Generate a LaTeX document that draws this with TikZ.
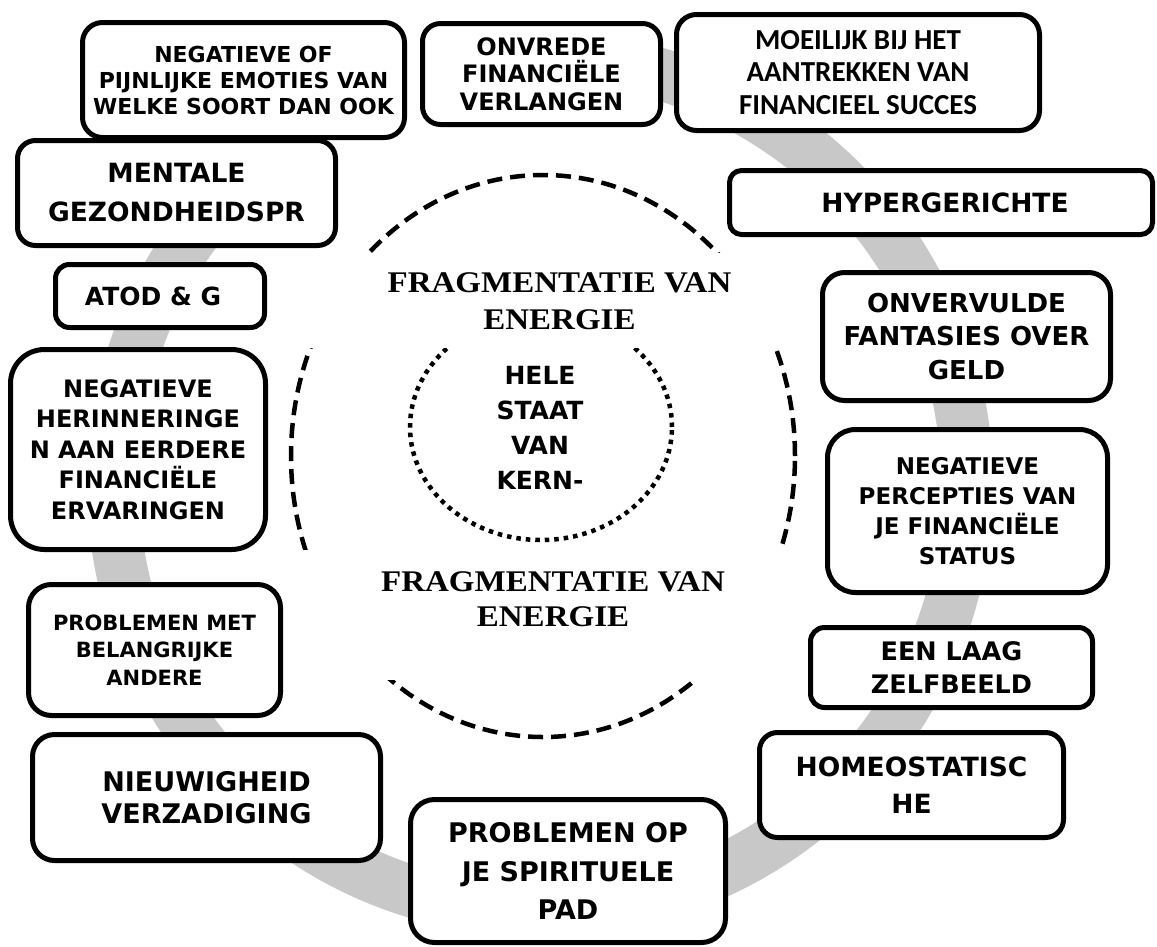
\documentclass[tikz,border=0pt]{standalone}
\usepackage{fontspec}
\newfontfamily\blk{DejaVu Sans}[UprightFont=*, BoldFont=* Bold]
\newfontfamily\clb{Carlito}
\newfontfamily\serf{Liberation Serif}[FakeStretch=1.1]
\definecolor{ringgray}{RGB}{200,200,200}
\newcommand{\fsz}[2]{\fontsize{#1}{#2}\selectfont}
\newcommand{\heavy}{\blk\bfseries}
\begin{document}
\begin{tikzpicture}[x=1pt,y=-1pt,
  box/.style={draw=black, line width=5pt, fill=white, rounded corners=#1,
    inner sep=0pt, align=center},
  box/.default=18pt,
  ring/.style={draw=ringgray, line width=52pt},
  outerring/.style={draw=black, line width=4.5pt, dash pattern=on 15pt off 8pt},
  innerring/.style={draw=black, line width=4.5pt, dash pattern=on 4.5pt off 5pt},
  cover/.style={fill=white},
  fragtext/.style={inner sep=0pt, align=center, font=\serf\bfseries\fsz{30}{37}},
  coretext/.style={inner sep=0pt, align=center, font=\heavy\fsz{25}{35}}
]
% canvas
\fill[white] (0,0) rectangle (1157,946);
\useasboundingbox (0,0) rectangle (1157,946);

% grey cycle ring behind the boxes, open at the top left
\coordinate (hub) at (540,484);
\draw[ring] (hub) ++(90:427pt) arc[start angle=90, end angle=-235, radius=427pt];

% dashed and dotted ellipses in the middle
\draw[outerring] (543,456) ellipse [x radius=252pt, y radius=281pt];
\draw[innerring] (541,427) ellipse [x radius=131pt, y radius=113pt];

% white bands behind the two captions
\fill[cover] (295,253) rectangle (800,348);
\fill[cover] (295,550) rectangle (800,680);

\node[fragtext] (fragtop) at (559.5,301.5) {FRAGMENTATIE VAN\\ENERGIE};
\node[fragtext, font=\serf\bfseries\fsz{30}{35}] (fragbot) at (553,599.5) {FRAGMENTATIE VAN\\ENERGIE};
\node[coretext] (core) at (540,427.5) {HELE\\STAAT\\VAN\\KERN-};

% boxes around the ring
\node[box=20pt, minimum width=322pt, minimum height=115pt, font=\heavy\fsz{22}{26}]
  (negof) at (243.5,80) {NEGATIEVE OF\\PIJNLIJKE EMOTIES VAN\\WELKE SOORT DAN OOK};
\node[box=18pt, minimum width=238pt, minimum height=101pt, font=\heavy\fsz{24}{27.5}]
  (onvrede) at (541.5,74) {ONVREDE\\FINANCIËLE\\VERLANGEN};
\node[box=20pt, minimum width=363pt, minimum height=116pt, font=\clb\bfseries\fsz{29}{32.5}]
  (moeilijk) at (858,72.5) {MOEILIJK BIJ HET\\AANTREKKEN VAN\\FINANCIEEL SUCCES};
\node[box=18pt, minimum width=318pt, minimum height=105pt, font=\heavy\fsz{26.5}{39}]
  (mentale) at (176.5,193) {MENTALE\\GEZONDHEIDSPR};
\node[box=12pt, minimum width=423pt, minimum height=64pt, font=\heavy\fsz{26.5}{32}]
  (hyper) at (941,202.5) {\hspace*{8pt}HYPERGERICHTE};
\node[box=14pt, minimum width=209pt, minimum height=63pt, font=\heavy\fsz{25}{30}]
  (atod) at (160,296) {ATOD \& G\hspace*{14pt}};
\node[box=22pt, minimum width=288pt, minimum height=128pt, font=\heavy\fsz{26}{33.5}]
  (onvervulde) at (966.5,336.5) {ONVERVULDE\\FANTASIES OVER\\GELD};
\node[box=34pt, minimum width=255pt, minimum height=200pt, font=\heavy\fsz{24}{30.5}]
  (negher) at (138,449.5) {NEGATIEVE\\HERINNERINGE\\N AAN EERDERE\\FINANCIËLE\\ERVARINGEN};
\node[box=28pt, minimum width=280pt, minimum height=163pt, font=\heavy\fsz{23}{30}]
  (negperc) at (967.5,511) {NEGATIEVE\\PERCEPTIES VAN\\JE FINANCIËLE\\STATUS};
\node[box=23pt, minimum width=252pt, minimum height=131pt, font=\heavy\fsz{21}{27.5}]
  (probmet) at (154.5,650) {PROBLEMEN MET\\BELANGRIJKE\\ANDERE};
\node[box=14pt, minimum width=282pt, minimum height=80pt, font=\heavy\fsz{25.5}{33}]
  (eenlaag) at (951.5,667.5) {EEN LAAG\\ZELFBEELD};
\node[box=22pt, minimum width=348pt, minimum height=126pt, font=\heavy\fsz{27}{32}]
  (nieuw) at (206.5,797.5) {NIEUWIGHEID\\VERZADIGING};
\node[box=18pt, minimum width=304pt, minimum height=105pt, font=\heavy\fsz{26.5}{37}]
  (homeo) at (911.5,785) {HOMEOSTATISC\\HE};
\node[box=24pt, minimum width=315pt, minimum height=143pt, font=\heavy\fsz{27}{38.5}]
  (probop) at (568,871) {PROBLEMEN OP\\JE SPIRITUELE\\PAD};
\end{tikzpicture}
\end{document}
